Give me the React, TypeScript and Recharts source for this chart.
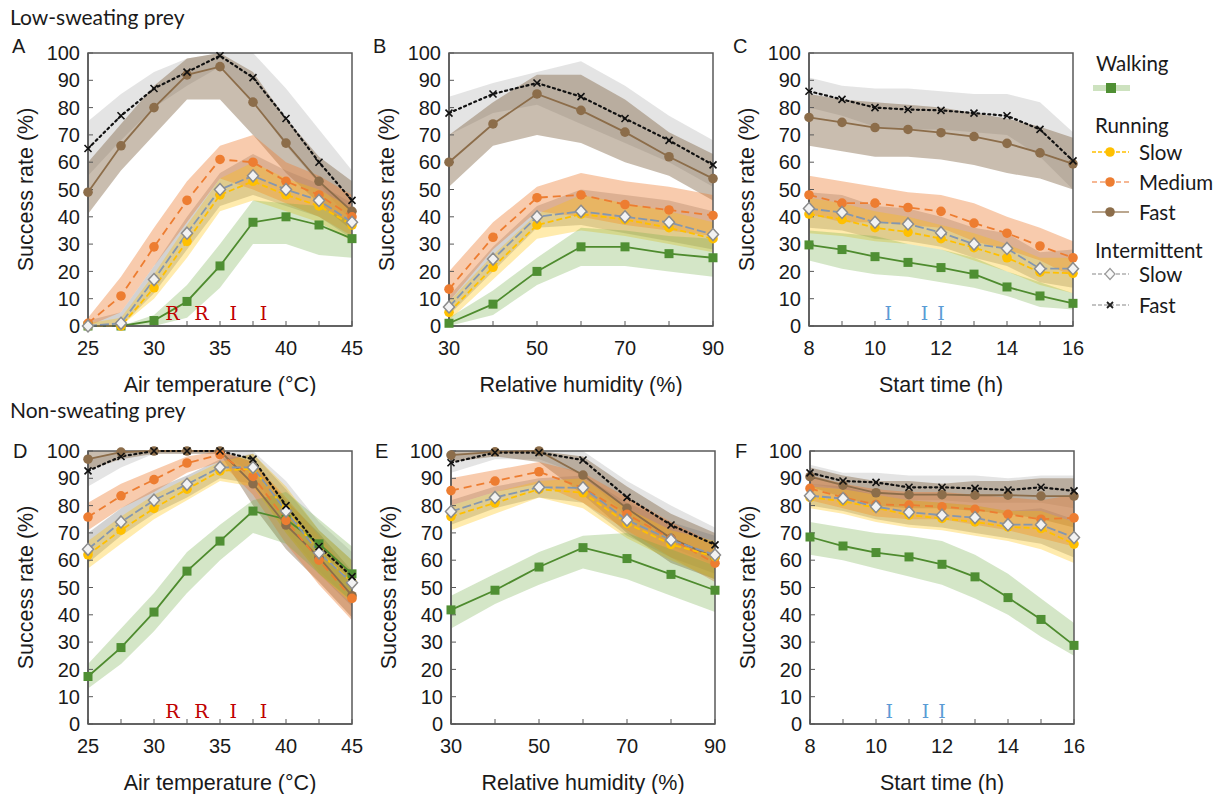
import React from "react";
import { ComposedChart, Area, Line, XAxis, YAxis, ReferenceArea, ReferenceDot, Label } from "recharts";

// x positions of the model runs
const tempX = [25, 27.5, 30, 32.5, 35, 37.5, 40, 42.5, 45];
const humX = [30, 40, 50, 60, 70, 80, 90];
const timeX = [8, 9, 10, 11, 12, 13, 14, 15, 16];

const tempTicks = [25, 27.5, 30, 32.5, 35, 37.5, 40, 42.5, 45];
const tempLabels = [25, 30, 35, 40, 45];
const humTicks = [30, 40, 50, 60, 70, 80, 90];
const humLabels = [30, 50, 70, 90];
const timeTicks = [8, 9, 10, 11, 12, 13, 14, 15, 16];
const timeLabels = [8, 10, 12, 14, 16];
const yTicks = [0, 10, 20, 30, 40, 50, 60, 70, 80, 90, 100];

// [lower, mean, upper] success rate (%)
const aWalk = [[0, 0, 0], [0, 0, 0], [0, 2, 4], [3, 9, 15], [14, 22, 30], [30, 38, 46], [30, 40, 45], [26, 37, 44], [25, 32, 38]];
const aSlow = [[0, 0, 1], [0, 0, 3], [10, 14, 19], [25, 31, 37], [42, 48, 54], [46, 53, 60], [42, 48, 54], [38, 44, 50], [31, 37, 43]];
const aMed = [[0, 1, 3], [5, 11, 18], [22, 29, 36], [38, 46, 53], [54, 61, 66], [50, 60, 70], [45, 53, 60], [40, 48, 55], [33, 40, 48]];
const aFast = [[41, 49, 60], [57, 66, 74], [70, 80, 88], [83, 92, 98], [83, 95, 100], [70, 82, 93], [56, 67, 76], [45, 53, 62], [35, 42, 53]];
const aIntSlow = [[0, 0, 2], [0, 1, 5], [12, 17, 22], [28, 34, 40], [44, 50, 56], [48, 55, 63], [44, 50, 57], [40, 46, 52], [32, 38, 45]];
const aIntFast = [[55, 65, 75], [68, 77, 85], [80, 87, 93], [88, 93, 98], [95, 99, 100], [82, 91, 100], [66, 76, 87], [52, 60, 72], [38, 46, 57]];

const bWalk = [[0, 1, 3], [4, 8, 13], [15, 20, 25], [22, 29, 36], [22, 29, 35], [20, 26.5, 33], [18, 25, 32]];
const bSlow = [[2, 5, 9], [17, 21.5, 26], [32, 37, 41], [35, 41, 48], [33, 39, 45], [30, 36, 42], [27, 32, 38]];
const bMed = [[9, 13.5, 20], [28, 32.5, 38], [42, 47, 51], [40, 48, 56], [37, 44.5, 53], [35, 42.5, 51], [33, 40.5, 48]];
const bFast = [[51, 60, 70], [66, 74, 82], [70, 85, 92], [67, 79, 92], [60, 71, 83], [55, 62, 71], [46, 54, 63]];
const bIntSlow = [[4, 7, 11], [20, 24.5, 29], [36, 40, 44], [37, 42, 50], [34, 40, 48], [31, 38, 46], [28, 33.5, 42]];
const bIntFast = [[70, 78, 84], [78, 85, 89], [81, 89, 93], [74, 84, 97], [67, 76, 88], [60, 68, 77], [51, 59, 68]];

const cWalk = [[24, 29.7, 35], [21, 28, 34], [19, 25.4, 33], [18, 23.3, 30], [16, 21.4, 28], [14, 19, 25], [11, 14.3, 20], [7, 11, 16], [6, 8.3, 12]];
const cSlow = [[34, 41, 47], [33, 39, 45], [31, 36, 42], [30, 34.4, 40], [28, 32, 37], [24, 28.7, 34], [20, 25, 30], [15, 19.7, 25], [12, 19.3, 25]];
const cMed = [[41, 48, 55], [38, 45, 53], [38, 45, 51], [37, 43.4, 49], [36, 42, 48], [31, 37.7, 45], [28, 34, 40], [24, 29.3, 36], [18, 25, 31]];
const cFast = [[66, 76.4, 85], [64, 74.6, 83], [62, 72.7, 82], [62, 72, 81], [61, 70.8, 80], [59, 69.4, 78], [56, 66.9, 76], [54, 63.4, 73], [50, 59.4, 69]];
const cIntSlow = [[36, 43, 49], [35, 41.6, 48], [32, 38, 44], [31, 37.4, 43], [29, 34.2, 40], [25, 30, 36], [22, 28.4, 34], [16, 21, 27], [14, 21, 28]];
const cIntFast = [[80, 86, 91], [77, 83, 88], [73, 80, 87], [72, 79.3, 87], [72, 79, 86], [71, 78, 85], [70, 77, 85], [62, 72, 82], [50, 60.5, 71]];

const dWalk = [[13, 17.4, 22], [22, 28, 35], [34, 41, 48], [48, 56, 63], [60, 67, 73], [70, 78, 82], [66, 75, 85], [55, 66, 75], [45, 55, 65]];
const dSlow = [[57, 62, 67], [66, 71, 76], [75, 79, 84], [82, 86, 90], [89, 92.7, 96], [87, 93.5, 99], [70, 78.5, 87], [55, 63, 71], [44, 52, 60]];
const dMed = [[71, 75.8, 81], [79, 83.6, 88], [85, 89.5, 93], [92, 95.6, 98], [96, 98.7, 100], [84, 90.7, 96], [66, 74.6, 83], [51, 60, 69], [38, 46, 54]];
const dFast = [[93, 97, 100], [97, 99.6, 100], [99, 100, 100], [99, 100, 100], [99, 100, 100], [80, 88, 96], [64, 72.9, 82], [52, 61, 70], [39, 47, 56]];
const dIntSlow = [[59, 64, 70], [69, 74, 79], [77, 82, 86], [83, 87.8, 91], [90, 94, 97], [88, 94, 99], [70, 78, 86], [55, 62.7, 71], [43, 51.7, 60]];
const dIntFast = [[87, 92.7, 97], [94, 98, 100], [99, 100, 100], [99, 100, 100], [99, 100, 100], [92, 97, 100], [71, 80, 89], [56, 65, 74], [45, 54, 63]];

const eWalk = [[35, 41.8, 47], [44, 49, 55], [51, 57.5, 63], [57, 64.6, 69], [53, 60.6, 70], [47, 54.8, 64], [41, 49, 58]];
const eSlow = [[71, 76, 80], [77, 81, 85], [83, 86, 89], [79, 84.7, 90], [68, 73.5, 79], [60, 65.8, 71], [53, 61.3, 67]];
const eMed = [[80, 85.5, 90], [85, 89, 93], [88, 92.4, 96], [81, 86.5, 92], [71, 76.8, 83], [61, 67.8, 74], [52, 58.9, 66]];
const eFast = [[96, 98.5, 100], [98, 99.7, 100], [96, 100, 100], [84, 91.2, 98], [70, 79, 87], [59, 68, 77], [53, 61, 70]];
const eIntSlow = [[73, 77.8, 82], [79, 83, 87], [83, 86.7, 90], [81, 86.5, 91], [69, 74.7, 81], [61, 67.4, 74], [55, 61.9, 69]];
const eIntFast = [[92, 95.7, 99], [97, 99.4, 100], [97, 99.4, 100], [91, 96.7, 100], [76, 83, 89], [65, 72.9, 80], [58, 65.6, 72]];

const fWalk = [[62, 68.5, 74], [60, 65.2, 72], [57, 62.8, 70], [54, 61.2, 69], [51, 58.5, 67], [46, 53.9, 62], [40, 46.3, 55], [32, 38.3, 46], [25, 28.8, 37]];
const fSlow = [[79, 83, 87], [77, 81.6, 86], [74, 79.2, 84], [72, 76.5, 82], [71, 75.3, 81], [69, 74, 80], [67, 72.2, 78], [64, 71.6, 78], [59, 65.9, 74]];
const fMed = [[82, 86.3, 91], [79, 83, 88], [76, 80.4, 86], [75, 80.2, 85], [75, 79.6, 85], [73, 78.6, 84], [71, 76.8, 83], [68, 75, 82], [65, 75.5, 84]];
const fFast = [[87, 90.6, 94], [83, 87.5, 91], [80, 84.7, 89], [79, 84, 89], [79, 84, 88], [78, 83.8, 89], [77, 83.8, 89], [75, 83.5, 90], [72, 83.5, 90]];
const fIntSlow = [[80, 83.6, 88], [78, 82.6, 87], [75, 79.6, 84], [73, 77.6, 82], [72, 76.5, 81], [70, 75.6, 80], [68, 73, 78], [66, 73, 79], [61, 68.3, 75]];
const fIntFast = [[88, 92, 95], [86, 89, 92], [84, 88.5, 92], [82, 86.7, 91], [82, 86.7, 91], [81, 86.3, 91], [81, 85.7, 90], [81, 86.7, 91], [79, 85.4, 91]];

// letters marking thresholds
const tempNotes = [
  { x: 31.4, text: "R" },
  { x: 33.6, text: "R" },
  { x: 36.0, text: "I" },
  { x: 38.3, text: "I" },
];
const timeNotes = [
  { x: 10.4, text: "I" },
  { x: 11.5, text: "I" },
  { x: 12.0, text: "I" },
];

const SANS = "'Liberation Sans', Arial, sans-serif";
const HUMAN = "Lato, 'Open Sans', sans-serif";
const FRAME = "#595959";

const Square = ({ cx, cy }: any) =>
  cx == null ? null : <rect x={cx - 4.5} y={cy - 4.5} width={9} height={9} fill="#4f8f33" />;
const circle = (color: string) => ({ cx, cy }: any) =>
  cx == null ? null : <circle cx={cx} cy={cy} r={4.8} fill={color} />;
const Diamond = ({ cx, cy }: any) =>
  cx == null ? null : (
    <polygon
      points={`${cx},${cy - 6} ${cx + 5.5},${cy} ${cx},${cy + 6} ${cx - 5.5},${cy}`}
      fill="#f2f2f2"
      stroke="#8c8c8c"
      strokeWidth={1.5}
    />
  );
const Cross = ({ cx, cy }: any) =>
  cx == null ? null : (
    <g stroke="#111" strokeWidth={1.6}>
      <line x1={cx - 3.5} y1={cy - 3.5} x2={cx + 3.5} y2={cy + 3.5} />
      <line x1={cx - 3.5} y1={cy + 3.5} x2={cx + 3.5} y2={cy - 3.5} />
    </g>
  );

const seriesStyle = [
  { key: "intFast", line: "#111", dash: "2 3.5", band: "#a6a6a6", bandOp: 0.3, dot: Cross },
  { key: "fast", line: "#8c6d4a", dash: undefined, band: "#7f6241", bandOp: 0.42, dot: circle("#8c6d4a") },
  { key: "intSlow", line: "#8497b0", dash: "9 3", band: "#7f7f7f", bandOp: 0.35, dot: Diamond },
  { key: "med", line: "#ed7d31", dash: "8 5", band: "#ed7d31", bandOp: 0.4, dot: circle("#ed7d31") },
  { key: "slow", line: "#ffc000", dash: "6 3", band: "#ffc000", bandOp: 0.32, dot: circle("#ffc000") },
  { key: "walk", line: "#4e8b2e", dash: undefined, band: "#70ad47", bandOp: 0.3, dot: Square },
];
const lineOrder = ["walk", "fast", "med", "slow", "intSlow", "intFast"];

type Triple = number[];

function buildRows(xs: number[], s: Record<string, Triple[]>) {
  return xs.map((x, i) => {
    const row: any = { x };
    Object.keys(s).forEach((k) => {
      row[k] = s[k][i][1];
      row[k + "Band"] = [s[k][i][0], s[k][i][2]];
    });
    return row;
  });
}

const PLOT_W = 264;
const PLOT_H = 273;
const RIGHT = 22;

function Panel({
  left,
  top,
  xs,
  series,
  ticks,
  labels,
  title,
  notes,
  noteColor,
}: {
  left: number;
  top: number;
  xs: number[];
  series: Record<string, Triple[]>;
  ticks: number[];
  labels: number[];
  title: string;
  notes?: { x: number; text: string }[];
  noteColor?: string;
}) {
  const data = buildRows(xs, series);
  const domain = [ticks[0], ticks[ticks.length - 1]];
  return (
    <div style={{ position: "absolute", left: left - 88, top: top - 53 }}>
      <ComposedChart width={88 + PLOT_W + RIGHT} height={53 + PLOT_H + 70} data={data} margin={{ top: 53, right: RIGHT, bottom: 0, left: 0 }}>
        {seriesStyle.map((s) => (
          <Area
            key={s.key + "Band"}
            type="linear"
            dataKey={s.key + "Band"}
            stroke="none"
            fill={s.band}
            fillOpacity={s.bandOp}
            isAnimationActive={false}
            activeDot={false}
          />
        ))}
        <XAxis
          dataKey="x"
          type="number"
          domain={domain}
          ticks={ticks}
          height={70}
          interval={0}
          tickSize={-5}
          tickMargin={20}
          tickLine={{ stroke: FRAME }}
          axisLine={{ stroke: FRAME, strokeWidth: 1.5 }}
          tick={{ fontSize: 20, fill: "#1a1a1a", fontFamily: SANS }}
          tickFormatter={(v: number) => (labels.includes(v) ? String(v) : "")}
        >
          <Label
            content={({ viewBox }: any) => (
              <text
                x={viewBox.x + viewBox.width / 2}
                y={viewBox.y + 59}
                textAnchor="middle"
                dominantBaseline="central"
                fontSize={21.5}
                fontFamily={SANS}
                fill="#1a1a1a"
              >
                {title}
              </text>
            )}
          />
        </XAxis>
        <YAxis
          type="number"
          domain={[0, 100]}
          ticks={yTicks}
          width={88}
          interval={0}
          tickSize={-5}
          tickMargin={13}
          tickLine={{ stroke: FRAME }}
          axisLine={{ stroke: FRAME, strokeWidth: 1.5 }}
          tick={{ fontSize: 20, fill: "#1a1a1a", fontFamily: SANS }}
        >
          <Label
            content={({ viewBox }: any) => {
              const cx = viewBox.x + 26;
              const cy = viewBox.y + viewBox.height / 2;
              return (
                <text
                  x={cx}
                  y={cy}
                  transform={`rotate(-90 ${cx} ${cy})`}
                  textAnchor="middle"
                  dominantBaseline="central"
                  fontSize={21.5}
                  fontFamily={SANS}
                  fill="#1a1a1a"
                >
                  Success rate (%)
                </text>
              );
            }}
          />
        </YAxis>
        {lineOrder.map((k) => {
          const s = seriesStyle.find((q) => q.key === k)!;
          return (
            <Line
              key={k}
              type="linear"
              dataKey={k}
              stroke={s.line}
              strokeWidth={k === "intFast" ? 2.2 : 1.8}
              strokeDasharray={s.dash}
              strokeLinecap={k === "intFast" ? "round" : "butt"}
              dot={s.dot}
              activeDot={false}
              isAnimationActive={false}
            />
          );
        })}
        {(notes || []).map((n, i) => (
          <ReferenceDot
            key={i}
            x={n.x}
            y={4.8}
            r={0}
            fill="none"
            stroke="none"
            label={{
              value: n.text,
              position: "center",
              fill: noteColor,
              fontSize: 19,
              fontFamily: "'DejaVu Serif', 'Liberation Serif', serif",
            }}
          />
        ))}
        <ReferenceArea x1={domain[0]} x2={domain[1]} y1={0} y2={100} fill="none" stroke={FRAME} strokeWidth={1.5} />
      </ComposedChart>
    </div>
  );
}

function Legend() {
  const sample = (y: number, color: string, dash: string | undefined, marker: React.ReactNode) => (
    <g>
      <line x1={1092} x2={1129} y1={y} y2={y} stroke={color} strokeWidth={1.3} strokeDasharray={dash} />
      {marker}
    </g>
  );
  const txt = (x: number, y: number, s: string) => (
    <text x={x} y={y} fontSize={20.5} fontFamily={HUMAN} fill="#1a1a1a" dominantBaseline="central">
      {s}
    </text>
  );
  return (
    <g>
      {txt(1096, 63, "Walking")}
      <line x1={1093} x2={1130} y1={88} y2={88} stroke="#70ad47" strokeOpacity={0.35} strokeWidth={6} />
      <rect x={1106} y={83} width={10} height={10} fill="#4f8f33" />
      {txt(1095, 125, "Running")}
      {sample(152, "#ffc000", "4 2", <circle cx={1110} cy={152} r={4.8} fill="#ffc000" />)}
      {txt(1139, 152, "Slow")}
      {sample(182, "#f4a070", "5 3", <circle cx={1110} cy={182} r={4.8} fill="#ed7d31" />)}
      {txt(1139, 182, "Medium")}
      {sample(212, "#a58a6a", undefined, <circle cx={1110} cy={212} r={4.8} fill="#8c6d4a" />)}
      {txt(1139, 212, "Fast")}
      {txt(1095, 250, "Intermittent")}
      {sample(274, "#b0b0b0", "4 2", <polygon points="1110,268.5 1115,274 1110,279.5 1105,274" fill="#fafafa" stroke="#9a9a9a" strokeWidth={1.2} />)}
      {txt(1139, 274, "Slow")}
      {sample(305, "#b0b0b0", "4 2", <g stroke="#222" strokeWidth={1.8}><line x1={1107} y1={302} x2={1113} y2={308} /><line x1={1107} y1={308} x2={1113} y2={302} /></g>)}
      {txt(1139, 305, "Fast")}
    </g>
  );
}

export default function App() {
  return (
    <div style={{ position: "absolute", left: 0, top: 0, width: 1230, height: 794, background: "#fff", overflow: "hidden" }}>
      <svg width={1230} height={794} style={{ position: "absolute", left: 0, top: 0 }}>
        <text x={10} y={25} fontSize={21} fontFamily={HUMAN} fill="#1a1a1a">Low-sweating prey</text>
        <text x={10} y={418} fontSize={21} fontFamily={HUMAN} fill="#1a1a1a">Non-sweating prey</text>
        <text x={12} y={53} fontSize={20} fontFamily={SANS} fill="#1a1a1a">A</text>
        <text x={373} y={53} fontSize={20} fontFamily={SANS} fill="#1a1a1a">B</text>
        <text x={733} y={53} fontSize={20} fontFamily={SANS} fill="#1a1a1a">C</text>
        <text x={13} y={458} fontSize={20} fontFamily={SANS} fill="#1a1a1a">D</text>
        <text x={375} y={458} fontSize={20} fontFamily={SANS} fill="#1a1a1a">E</text>
        <text x={735} y={458} fontSize={20} fontFamily={SANS} fill="#1a1a1a">F</text>
        <Legend />
      </svg>
      <Panel left={88} top={53} xs={tempX} ticks={tempTicks} labels={tempLabels} title="Air temperature (°C)"
        series={{ walk: aWalk, slow: aSlow, med: aMed, fast: aFast, intSlow: aIntSlow, intFast: aIntFast }}
        notes={tempNotes} noteColor="#c00000" />
      <Panel left={449} top={53} xs={humX} ticks={humTicks} labels={humLabels} title="Relative humidity (%)"
        series={{ walk: bWalk, slow: bSlow, med: bMed, fast: bFast, intSlow: bIntSlow, intFast: bIntFast }} />
      <Panel left={809} top={53} xs={timeX} ticks={timeTicks} labels={timeLabels} title="Start time (h)"
        series={{ walk: cWalk, slow: cSlow, med: cMed, fast: cFast, intSlow: cIntSlow, intFast: cIntFast }}
        notes={timeNotes} noteColor="#5b9bd5" />
      <Panel left={88} top={451} xs={tempX} ticks={tempTicks} labels={tempLabels} title="Air temperature (°C)"
        series={{ walk: dWalk, slow: dSlow, med: dMed, fast: dFast, intSlow: dIntSlow, intFast: dIntFast }}
        notes={tempNotes} noteColor="#c00000" />
      <Panel left={451} top={451} xs={humX} ticks={humTicks} labels={humLabels} title="Relative humidity (%)"
        series={{ walk: eWalk, slow: eSlow, med: eMed, fast: eFast, intSlow: eIntSlow, intFast: eIntFast }} />
      <Panel left={810} top={451} xs={timeX} ticks={timeTicks} labels={timeLabels} title="Start time (h)"
        series={{ walk: fWalk, slow: fSlow, med: fMed, fast: fFast, intSlow: fIntSlow, intFast: fIntFast }}
        notes={timeNotes} noteColor="#5b9bd5" />
    </div>
  );
}
